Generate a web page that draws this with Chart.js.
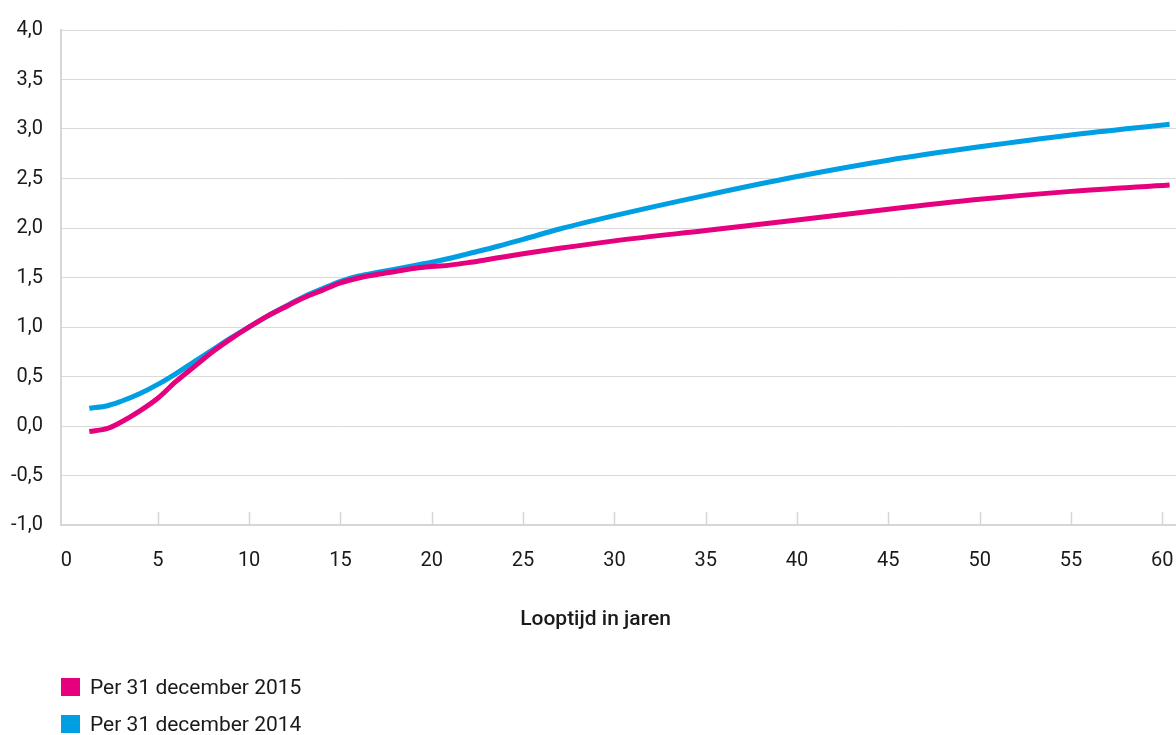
<!DOCTYPE html>
<html>
<head>
<meta charset="utf-8">
<script src="https://cdn.jsdelivr.net/npm/chart.js@4/dist/chart.umd.min.js"></script>
<style>
  html, body { margin: 0; padding: 0; background: #fff; }
  #wrap { position: relative; width: 1176px; height: 735px; }
  #chart { position: absolute; left: 0; top: 0; }
  #xtitle {
    position: absolute; left: 0; width: 1191px; top: 606px;
    text-align: center; font: 500 21px Roboto, sans-serif; color: #1a1a1a;
  }
  #legend { position: absolute; left: 61px; top: 677px; font: 21px Roboto, sans-serif; color: #1a1a1a; }
  .item { display: flex; align-items: center; height: 37px; }
  .item .box { width: 19px; height: 18px; margin-right: 10px; margin-top: -18px; }
  .item span { position: relative; top: -9px; }
</style>
</head>
<body>
<div id="wrap">
  <canvas id="chart" width="1176" height="735"></canvas>
  <div id="xtitle">Looptijd in jaren</div>
  <div id="legend"></div>
</div>
<script>
// Looptijd (jaren) and rente (%) per peildatum
const looptijd = [1.25, 2.25, 3, 4, 5, 6, 7, 8, 9, 10, 11, 12, 13, 14, 15, 16, 17, 18, 19, 20,
                  21, 22, 23, 24, 25, 27, 30, 35, 40, 45, 50, 55, 60.4];
const rente2015 = [-0.055, -0.025, 0.04, 0.15, 0.28, 0.45, 0.6, 0.75, 0.88, 1.0, 1.11, 1.205, 1.295, 1.37, 1.445, 1.495, 1.53, 1.56, 1.59, 1.61,
                   1.625, 1.65, 1.68, 1.71, 1.74, 1.795, 1.87, 1.975, 2.08, 2.19, 2.29, 2.37, 2.435];
const rente2014 = [0.18, 0.205, 0.25, 0.325, 0.42, 0.53, 0.65, 0.77, 0.89, 1.0, 1.11, 1.21, 1.305, 1.385, 1.46, 1.515, 1.55, 1.585, 1.62, 1.655,
                   1.695, 1.74, 1.785, 1.835, 1.885, 1.99, 2.125, 2.33, 2.52, 2.685, 2.82, 2.94, 3.047];
const seriesLabels = ['Per 31 december 2015', 'Per 31 december 2014'];
const seriesColors = ['#e6007e', '#009fe3'];
const xTicks = [0, 5, 10, 15, 20, 25, 30, 35, 40, 45, 50, 55, 60];
const yTicks = [-1, -0.5, 0, 0.5, 1, 1.5, 2, 2.5, 3, 3.5, 4];

const toPoints = (ys) => looptijd.map((x, i) => ({ x, y: ys[i] }));

// short tick marks that point up into the plot from the x axis
const innerTicks = {
  id: 'innerTicks',
  afterDraw(chart) {
    const sx = chart.scales.x;
    const bottom = chart.chartArea.bottom;
    const ctx = chart.ctx;
    ctx.save();
    ctx.strokeStyle = '#d6d6d6';
    ctx.lineWidth = 1.5;
    sx.ticks.forEach(t => {
      if (t.value === 0) return;
      const px = Math.round(sx.getPixelForValue(t.value)) + 0.5;
      ctx.beginPath();
      ctx.moveTo(px, bottom - 13);
      ctx.lineTo(px, bottom);
      ctx.stroke();
    });
    ctx.restore();
  }
};

Chart.defaults.font.family = 'Roboto, sans-serif';
Chart.defaults.font.size = 20;
Chart.defaults.color = '#1a1a1a';

const chart = new Chart(document.getElementById('chart'), {
  type: 'line',
  data: {
    datasets: [
      { label: seriesLabels[0], data: toPoints(rente2015), borderColor: seriesColors[0], backgroundColor: seriesColors[0] },
      { label: seriesLabels[1], data: toPoints(rente2014), borderColor: seriesColors[1], backgroundColor: seriesColors[1] }
    ]
  },
  options: {
    responsive: false,
    animation: false,
    events: [],
    layout: { padding: { top: 29, right: 0, bottom: 160, left: 0 } },
    elements: {
      line: { borderWidth: 5, cubicInterpolationMode: 'monotone', borderCapStyle: 'butt', fill: false },
      point: { radius: 0 }
    },
    plugins: { legend: { display: false }, tooltip: { enabled: false } },
    scales: {
      x: {
        type: 'linear',
        min: -0.3,
        max: 60.75,
        afterBuildTicks: (s) => { s.ticks = xTicks.map(v => ({ value: v })); },
        afterFit: (s) => { s.height = 50; s.paddingLeft = 0; s.paddingRight = 0; },
        ticks: { padding: 24, maxRotation: 0, autoSkip: false, font: { size: 20 }, callback: (v) => String(v) },
        grid: { display: false, drawTicks: false },
        border: { display: true, color: '#d6d6d6', width: 2 }
      },
      y: {
        min: -1,
        max: 4,
        afterBuildTicks: (s) => { s.ticks = yTicks.map(v => ({ value: v })); },
        afterFit: (s) => { s.width = 61; },
        ticks: { padding: 18, font: { size: 20 }, callback: (v) => v.toFixed(1).replace('.', ',') },
        grid: { color: '#d9d9d9', lineWidth: 1, drawTicks: false },
        border: { display: true, color: '#d6d6d6', width: 2 }
      }
    }
  },
  plugins: [innerTicks]
});

// legend built from the datasets, stacked under the chart
const legend = document.getElementById('legend');
chart.data.datasets.forEach(ds => {
  const item = document.createElement('div');
  item.className = 'item';
  const box = document.createElement('div');
  box.className = 'box';
  box.style.background = ds.borderColor;
  const txt = document.createElement('span');
  txt.textContent = ds.label;
  item.appendChild(box);
  item.appendChild(txt);
  legend.appendChild(item);
});
</script>
</body>
</html>
